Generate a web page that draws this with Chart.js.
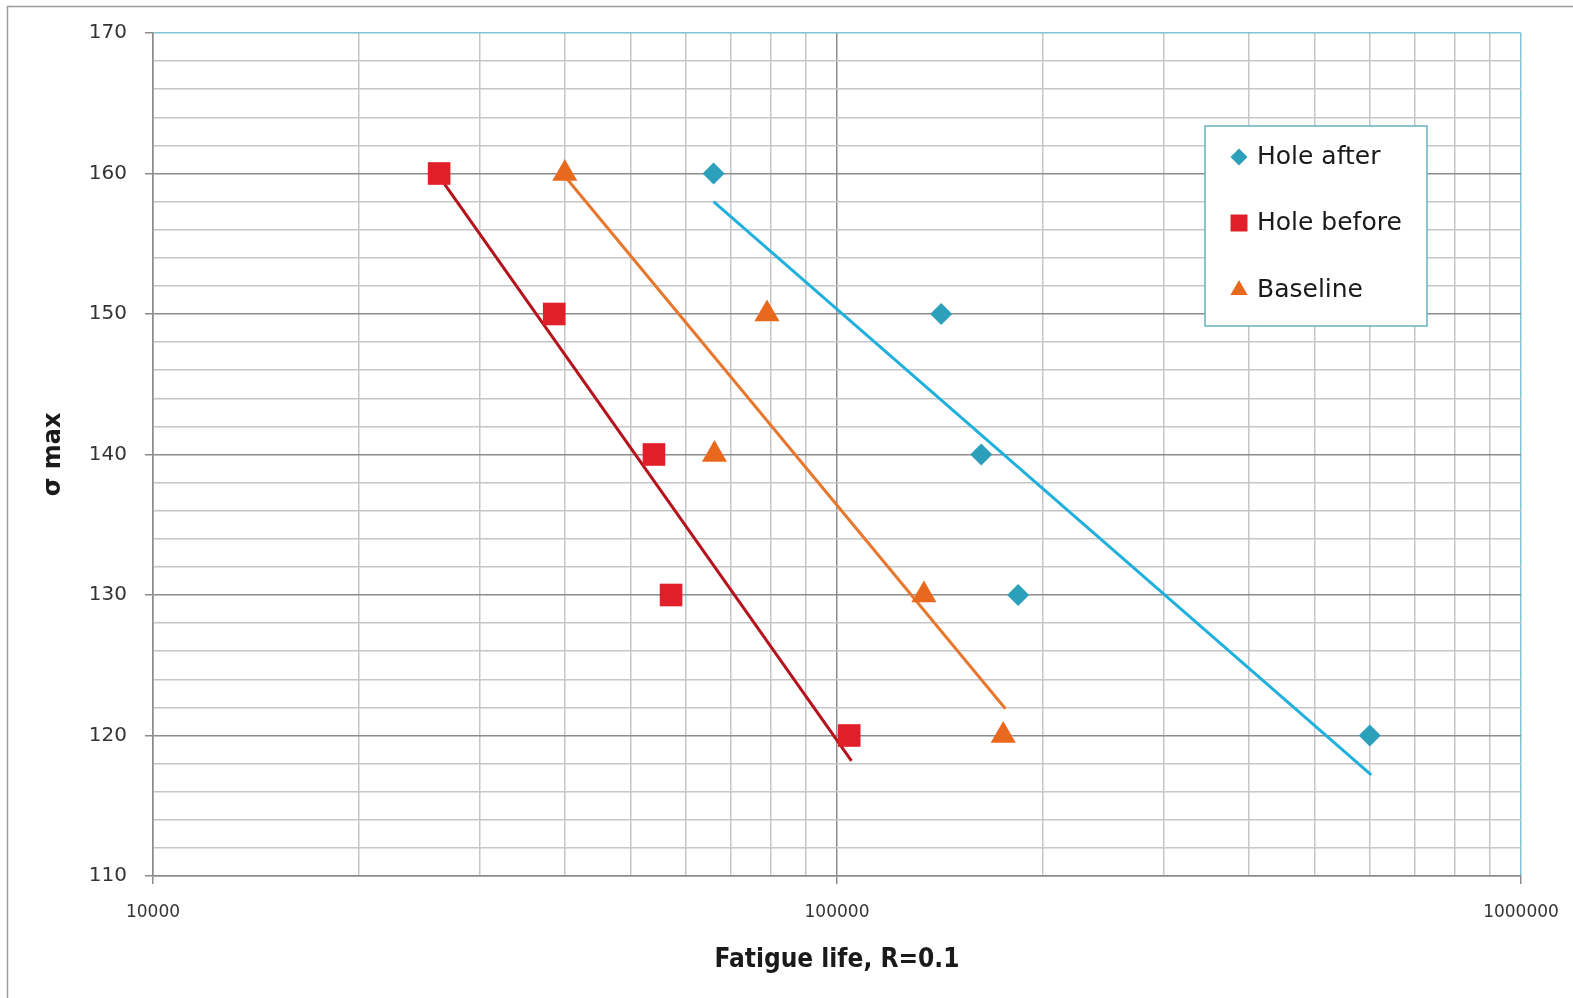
<!DOCTYPE html>
<html>
<head>
<meta charset="utf-8">
<script src="https://cdn.jsdelivr.net/npm/chart.js@4.4.1/dist/chart.umd.min.js"></script>
<style>
  body { margin: 0; background: #fff; }
  #wrap { width: 1573px; height: 998px; position: relative; }
</style>
</head>
<body>
<div id="wrap"><canvas id="myChart"></canvas></div>
<script>
// stress levels (y) shared by all series
const stress = [160, 150, 140, 130, 120];

// fatigue life per stress level
const holeAfter = [66000, 142000, 162500, 184000, 601000];
const holeBefore = [26200, 38600, 54000, 57200, 104200];
const baseline = [40000, 79000, 66200, 134000, 175000];

// trend line end points [start, end]
const holeAfterTrendX = [66000, 604000];
const holeAfterTrendY = [158.0, 117.2];
const holeBeforeTrendX = [26200, 105000];
const holeBeforeTrendY = [159.8, 118.2];
const baselineTrendX = [40000, 176300];
const baselineTrendY = [159.8, 121.9];

// axis labels
const yLabelValues = [110, 120, 130, 140, 150, 160, 170];
const xLabelValues = [10000, 100000, 1000000];
const legendLabels = ["Hole after", "Hole before", "Baseline"];

const TEAL = "#7fc6d2";
const GRID_MINOR = "#c6c6c6";
const GRID_MAJOR = "#8c8c8c";

function points(xs, ys) {
  let out = [];
  for (let i = 0; i < xs.length; i++) out.push({ x: xs[i], y: ys[i] });
  return out;
}

// grid positions for the log axis: 1..9 x 10^n
let xGridValues = [];
for (let e = 4; e < 6; e++) {
  for (let m = 1; m < 10; m++) xGridValues.push(m * Math.pow(10, e));
}
xGridValues.push(1000000);

function isDecade(v) {
  return xLabelValues.includes(v);
}

// outer frame of the picture
const framePlugin = {
  id: "frame",
  beforeDraw(chart) {
    const ctx = chart.ctx;
    ctx.save();
    ctx.strokeStyle = "#9a9a9a";
    ctx.lineWidth = 1.5;
    ctx.strokeRect(7.5, 6.5, 2000, 2000);
    ctx.restore();
  },
};

// legend box drawn inside the plot area
const boxLegend = {
  id: "boxLegend",
  afterDraw(chart, args, opts) {
    const ctx = chart.ctx;
    ctx.save();
    ctx.fillStyle = "#fff";
    ctx.fillRect(opts.left, opts.top, opts.width, opts.height);
    ctx.strokeStyle = "#62b3c2";
    ctx.lineWidth = 1.5;
    ctx.strokeRect(opts.left, opts.top, opts.width, opts.height);
    const sets = chart.data.datasets.slice(0, 3);
    sets.forEach((ds, i) => {
      const y = opts.rows[i];
      ctx.fillStyle = ds.backgroundColor;
      ctx.strokeStyle = ds.backgroundColor;
      Chart.helpers.drawPoint(
        ctx,
        { pointStyle: ds.pointStyle, radius: opts.radius[i], borderWidth: 0 },
        opts.markerX,
        y
      );
      ctx.fillStyle = "#1a1a1a";
      ctx.font = "25px 'DejaVu Sans', sans-serif";
      ctx.textBaseline = "middle";
      ctx.textAlign = "left";
      ctx.fillText(legendLabels[i], opts.textX, y);
    });
    ctx.restore();
  },
};

const labelFont = "'DejaVu Sans', sans-serif";

let config = {
  type: "scatter",
  data: {
    datasets: [
      {
        label: legendLabels[0],
        data: points(holeAfter, stress),
        pointStyle: "rectRot",
        pointRadius: 11,
        pointHoverRadius: 11,
        backgroundColor: "#2c9fba",
        borderWidth: 0,
      },
      {
        label: legendLabels[1],
        data: points(holeBefore, stress),
        pointStyle: "rect",
        pointRadius: 16,
        pointHoverRadius: 16,
        backgroundColor: "#e01f2b",
        borderWidth: 0,
      },
      {
        label: legendLabels[2],
        data: points(baseline, stress),
        pointStyle: "triangle",
        pointRadius: 14.5,
        pointHoverRadius: 14.5,
        backgroundColor: "#e8691d",
        borderWidth: 0,
      },
      {
        label: "trend after",
        data: points(holeAfterTrendX, holeAfterTrendY),
        showLine: true,
        pointRadius: 0,
        borderColor: "#1fb0de",
        borderWidth: 3,
        order: 5,
      },
      {
        label: "trend before",
        data: points(holeBeforeTrendX, holeBeforeTrendY),
        showLine: true,
        pointRadius: 0,
        borderColor: "#b5121b",
        borderWidth: 3,
        order: 5,
      },
      {
        label: "trend baseline",
        data: points(baselineTrendX, baselineTrendY),
        showLine: true,
        pointRadius: 0,
        borderColor: "#e8772e",
        borderWidth: 3,
        order: 5,
      },
    ],
  },
  options: {
    responsive: true,
    maintainAspectRatio: false,
    animation: false,
    layout: { padding: { top: 33, right: 52, left: 0, bottom: 0 } },
    plugins: {
      legend: { display: false },
      tooltip: { enabled: false },
      boxLegend: {
        left: 1205,
        top: 126,
        width: 222,
        height: 200,
        markerX: 1239,
        textX: 1257,
        rows: [157, 223, 290],
        radius: [8.5, 12, 10],
      },
    },
    scales: {
      x: {
        type: "logarithmic",
        min: 10000,
        max: 1000000,
        afterBuildTicks: (scale) => {
          scale.ticks = xGridValues.map((v) => ({ value: v }));
        },
        afterFit: (scale) => {
          scale.height = 122;
          scale.paddingLeft = 0;
          scale.paddingRight = 0;
        },
        ticks: {
          autoSkip: false,
          maxRotation: 0,
          padding: 18,
          color: "#333",
          font: { family: labelFont, size: 17 },
          callback: (v) => (isDecade(v) ? String(v) : ""),
        },
        grid: {
          color: (c) => {
            const v = c.tick && c.tick.value;
            if (v === 1000000) return TEAL;
            return isDecade(v) ? GRID_MAJOR : GRID_MINOR;
          },
          lineWidth: 1.5,
          tickLength: 8,
          tickColor: (c) => (c.tick && isDecade(c.tick.value) ? GRID_MAJOR : "rgba(0,0,0,0)"),
        },
        border: { color: GRID_MAJOR, width: 1.5 },
        title: {
          display: true,
          text: "Fatigue life, R=0.1",
          color: "#1a1a1a",
          font: {
            family: "'Liberation Sans Narrow', 'DejaVu Sans Condensed', 'Liberation Sans', sans-serif",
            size: 26,
            weight: "bold",
          },
          padding: { top: 0, bottom: 22 },
        },
      },
      y: {
        min: 110,
        max: 170,
        afterFit: (scale) => {
          scale.width = 153;
          scale.paddingTop = 0;
          scale.paddingBottom = 0;
        },
        ticks: {
          stepSize: 2,
          padding: 18,
          color: "#333",
          font: { family: labelFont, size: 20 },
          callback: (v) => (yLabelValues.includes(v) ? String(v) : ""),
        },
        grid: {
          color: (c) => {
            const v = c.tick && c.tick.value;
            if (v === 170) return TEAL;
            return yLabelValues.includes(v) ? GRID_MAJOR : GRID_MINOR;
          },
          lineWidth: 1.5,
          tickLength: 8,
          tickColor: (c) => (c.tick && yLabelValues.includes(c.tick.value) ? GRID_MAJOR : "rgba(0,0,0,0)"),
        },
        border: { color: GRID_MAJOR, width: 1.5 },
        title: {
          display: true,
          text: "σ max",
          color: "#1a1a1a",
          font: { family: "'DejaVu Sans', sans-serif", size: 24, weight: "bold" },
          padding: { top: 39, bottom: 0 },
        },
      },
    },
  },
  plugins: [framePlugin, boxLegend],
};

new Chart(document.getElementById("myChart"), config);
</script>
</body>
</html>
